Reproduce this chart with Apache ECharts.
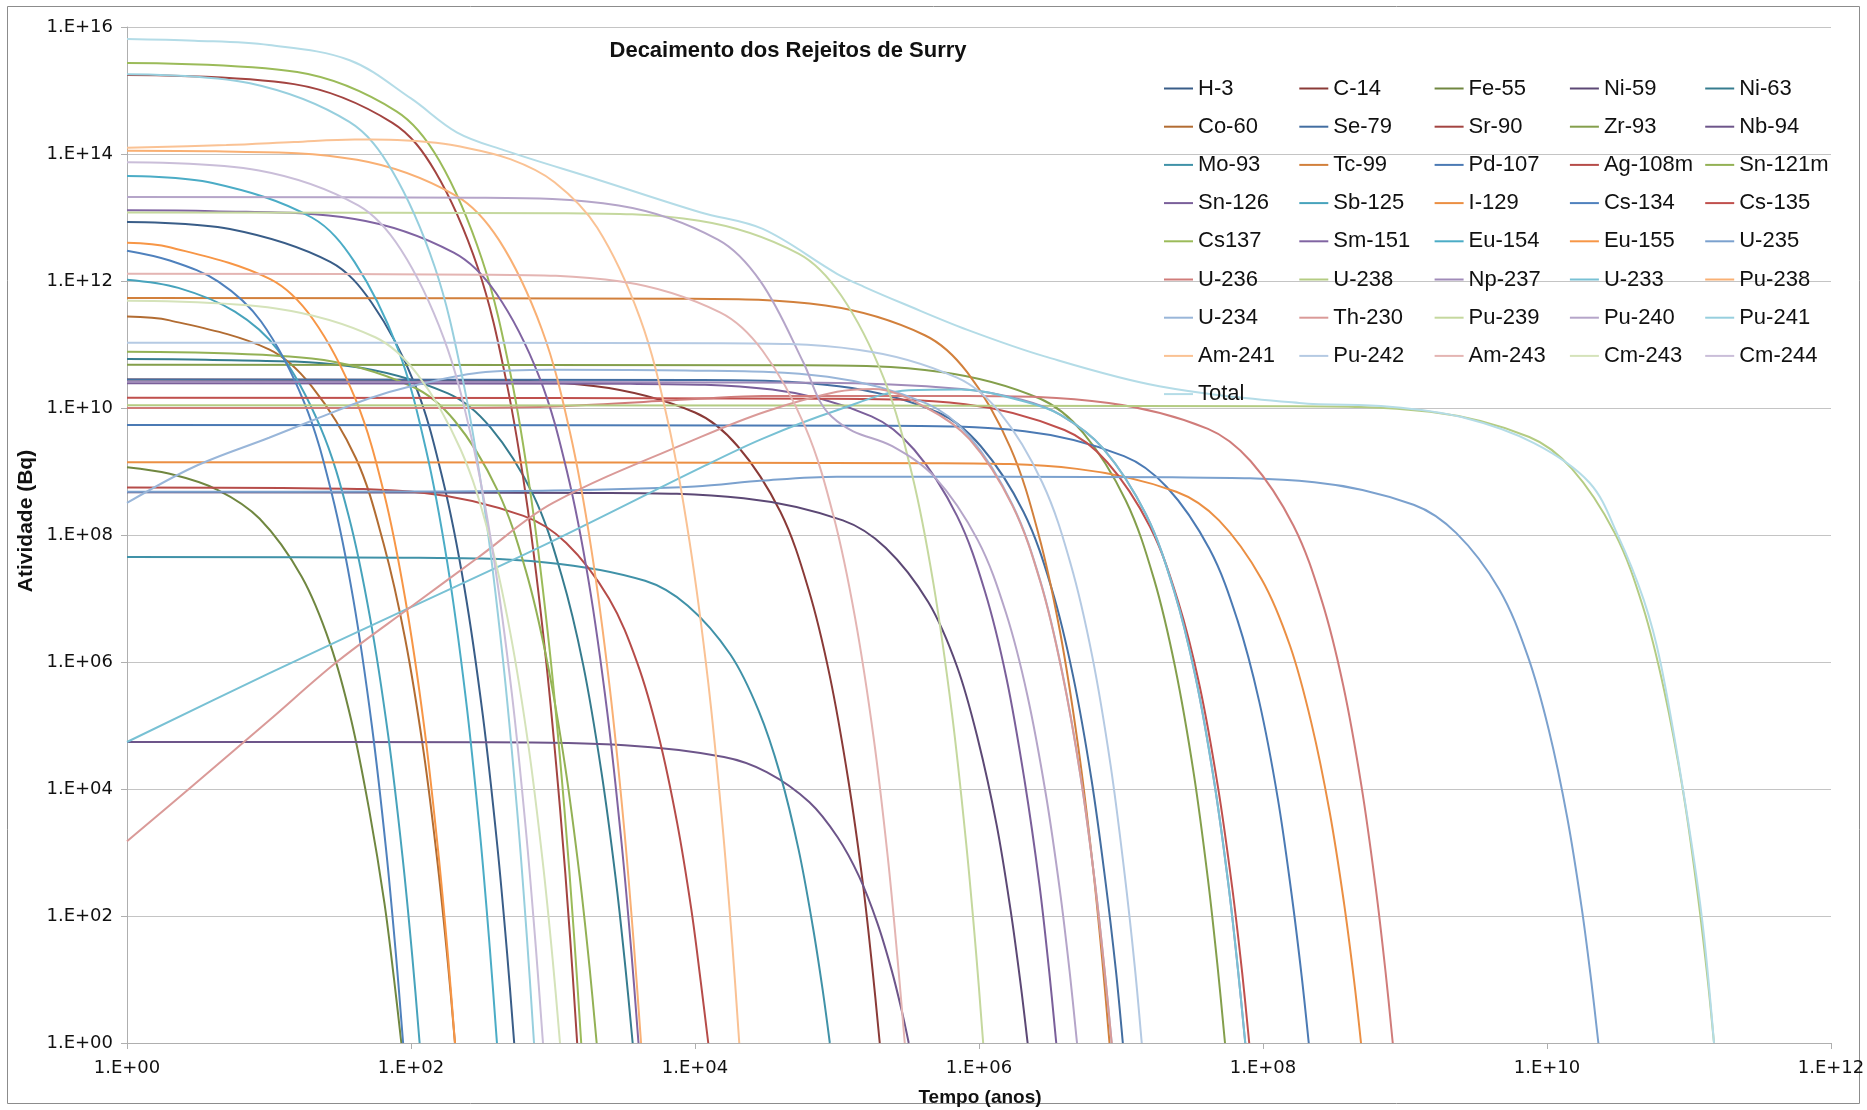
<!DOCTYPE html>
<html>
<head>
<meta charset="utf-8">
<title>Decaimento dos Rejeitos de Surry</title>
<script src="https://cdn.jsdelivr.net/npm/echarts/dist/echarts.min.js"></script>
<style>
  html, body { margin: 0; padding: 0; background: #ffffff; }
  #chart { width: 1867px; height: 1110px; }
</style>
</head>
<body>
<div id="chart"></div>
<script>
// Activity (Bq) versus time (years) for each nuclide of the Surry waste inventory.
// Each list holds [time in years, activity in Bq] pairs.
const H3 = [[1,8.5e12],[5.3,6.6e12],[27,2.0e12],[53,4.5e11],[107,2.3e10],[168,7.2e8],[238,1.45e7],[321,1.4e5],[405,1300],[475,26],[533,1]];
const C14 = [[1,2.8e10],[200,2.75e10],[2000,2.2e10],[1e4,8.5e9],[2e4,2.5e9],[4e4,2.3e8],[6.3e4,1.4e7],[8.9e4,6e5],[1.2e5,1.4e4],[1.52e5,330],[1.78e5,14],[2e5,1]];
const Fe55 = [[1,1.17e9],[2,9.2e8],[4.3,5.2e8],[8.6,1.8e8],[17,2.2e7],[27,1.9e6],[38,1.2e5],[51,4400],[65,160],[76,10],[85.5,1]];
const Ni59 = [[1,4.7e8],[2200,4.6e8],[2.2e4,3.8e8],[1.1e5,1.7e8],[2.2e5,6.3e7],[4.4e5,8.7e6],[7e5,8.5e5],[9.8e5,6.2e4],[1.33e6,2750],[1.67e6,123],[1.96e6,8.8],[2.2e6,1]];
const Ni63 = [[1,5.9e10],[3.6,5.75e10],[36,4.6e10],[182,1.7e10],[364,4.9e9],[728,4.2e8],[1150,2.3e7],[1630,9.1e5],[2190,1.9e4],[2760,400],[3240,15],[3640,1]];
const Co60 = [[1,2.75e11],[2,2.4e11],[10,8.4e10],[20,2.2e10],[41,1.6e9],[64,7.4e7],[91,2.3e6],[123,3.7e4],[155,590],[182,18],[204,1]];
const Se79 = [[1,2.8e10],[1.03e4,2.75e10],[1.03e5,2.2e10],[5.15e5,8.5e9],[1.03e6,2.5e9],[2.06e6,2.3e8],[3.26e6,1.4e7],[4.6e6,6e5],[6.2e6,1.4e4],[7.8e6,330],[9.2e6,14],[1.03e7,1]];
const Sr90 = [[1,1.75e15],[15,1.26e15],[74,3.1e14],[148,5.3e13],[296,1.6e12],[468,2.7e10],[662,2.7e8],[892,1.1e6],[1123,4700],[1319,46],[1480,1]];
const Zr93 = [[1,4.8e10],[5.4e4,4.7e10],[5.4e5,3.7e10],[2.7e6,1.4e10],[5.4e6,4.1e9],[1.08e7,3.5e8],[1.71e7,2e7],[2.41e7,8.1e5],[3.26e7,1.7e4],[4.1e7,370],[4.81e7,14.5],[5.4e7,1]];
const Nb94 = [[1,5.5e4],[320,5.45e4],[3200,4.9e4],[1.6e4,3.2e4],[3.2e4,1.85e4],[6.4e4,6200],[1.01e5,1740],[1.43e5,420],[1.93e5,76],[2.43e5,13.8],[2.85e5,3.3],[3.2e5,1]];
const Mo93 = [[1,4.5e7],[89,4.4e7],[890,3.7e7],[4450,1.9e7],[8900,7.7e6],[1.78e4,1.3e6],[2.81e4,1.7e5],[3.98e4,1.7e4],[5.37e4,1100],[6.75e4,69],[7.93e4,6.8],[8.9e4,1]];
const Tc99 = [[1,5.4e11],[8300,5.25e11],[8.3e4,4.1e11],[4.15e5,1.4e11],[8.3e5,3.6e10],[1.66e6,2.4e9],[2.62e6,1.05e8],[3.71e6,3.1e6],[5e6,4.6e4],[6.3e6,680],[7.4e6,19],[8.3e6,1]];
const Pd107 = [[1,5.4e9],[2.1e5,5.25e9],[2.1e6,4.3e9],[1.05e7,1.75e9],[2.1e7,5.7e8],[4.2e7,6e7],[6.6e7,4.6e6],[9.4e7,2.4e5],[1.27e8,7200],[1.59e8,220],[1.87e8,11.5],[2.1e8,1]];
const Ag108m = [[1,5.6e8],[12.4,5.5e8],[124,4.6e8],[620,2.0e8],[1240,7.5e7],[2480,1.0e7],[3920,9.7e5],[5540,6.9e4],[7480,2950],[9410,129],[1.1e4,8.9],[1.24e4,1]];
const Sn121m = [[1,7.7e10],[20,6.0e10],[101,2.2e10],[203,6.3e9],[406,5.1e8],[642,2.8e7],[907,1.05e6],[1224,2.1e4],[1541,420],[1809,15.5],[2030,1]];
const Sn126 = [[1,2.45e10],[3500,2.4e10],[3.5e4,1.95e10],[1.75e5,7.4e9],[3.5e5,2.2e9],[7e5,2.0e8],[1.1e6,1.3e7],[1.56e6,5.6e5],[2.1e6,1.3e4],[2.66e6,320],[3.12e6,13.5],[3.5e6,1]];
const Sb125 = [[1,1.05e12],[2.3,7.8e11],[5.75,3.3e11],[11.5,8.3e10],[23,5.0e9],[36.4,2.0e8],[51.4,5.1e6],[69.3,6.6e4],[87.3,830],[102.5,21],[115,1]];
const I129 = [[1,1.4e9],[4.9e5,1.35e9],[4.9e6,1.1e9],[2.45e7,4.8e8],[4.9e7,1.7e8],[9.8e7,2.0e7],[1.55e8,1.8e6],[2.19e8,1.1e5],[2.95e8,4300],[3.72e8,160],[4.37e8,10],[4.9e8,1]];
const Cs134 = [[1,3.0e12],[2,2.1e12],[4.4,9.8e11],[8.8,2.3e11],[17.6,1.26e10],[27.8,4.3e8],[39.3,9.5e6],[53,1.0e5],[66.8,1100],[78.4,24],[88,1]];
const Cs135 = [[1,1.45e10],[8e4,1.4e10],[8e5,1.15e10],[4e6,4.5e9],[8e6,1.4e9],[1.6e7,1.35e8],[2.53e7,8.9e6],[3.58e7,4.2e5],[4.82e7,1.07e4],[6.07e7,280],[7.13e7,12.9],[8e7,1]];
const Cs137 = [[1,2.7e15],[15.8,1.95e15],[79,4.7e14],[158,7.9e13],[316,2.2e12],[500,3.6e10],[706,3.5e8],[953,1.35e6],[1200,5200],[1408,48],[1580,1]];
const Sm151 = [[1,1.3e13],[4,1.26e13],[40,9.5e12],[200,2.8e12],[400,6.3e11],[800,3.1e10],[1264,9.3e8],[1788,1.8e7],[2412,1.6e5],[3036,1450],[3564,27],[4000,1]];
const Eu154 = [[1,4.5e13],[4,3.5e13],[20,1.0e13],[40,2.0e12],[80.6,8.7e10],[127,2.3e9],[180,3.7e7],[243,2.7e5],[306,2000],[359,31],[403,1]];
const Eu155 = [[1,4.0e12],[2,3.4e12],[10.2,1.07e12],[20.4,2.5e11],[40.8,1.35e10],[64.5,4.6e8],[91,1.0e7],[123,1.07e5],[155,1100],[182,24],[204,1]];
const U235 = [[1,4.8e8],[100,4.85e8],[1000,5.0e8],[1e4,5.8e8],[3e4,7.2e8],[1e5,8.3e8],[2.3e7,8.1e8],[2.3e8,6.8e8],[1.15e9,3.0e8],[2.3e9,1.07e8],[4.6e9,1.4e7],[7.3e9,1.26e6],[1.03e10,8.5e4],[1.39e10,3500],[1.75e10,141],[2.05e10,9.4],[2.3e10,1]];
const U236 = [[1,1.0e10],[100,1.0e10],[1000,1.06e10],[1e4,1.38e10],[3e4,1.55e10],[8.2e5,1.55e10],[8.2e6,1.2e10],[4.1e7,4.7e9],[8.2e7,1.45e9],[1.64e8,1.4e8],[2.6e8,9.1e6],[3.67e8,4.3e5],[4.94e8,1.1e4],[6.22e8,280],[7.3e8,13],[8.2e8,1]];
const U238 = [[1,1.1e10],[1.5e8,1.07e10],[1.5e9,8.7e9],[7.5e9,3.5e9],[1.5e10,1.1e9],[3e10,1.07e8],[4.74e10,7.4e6],[6.7e10,3.5e5],[9.05e10,9700],[1.14e11,260],[1.34e11,12.4],[1.5e11,1]];
const Np237 = [[1,2.6e10],[7.5e4,2.5e10],[7.5e5,2.0e10],[2e6,1.35e10],[3.75e6,7.8e9],[7.5e6,2.3e9],[1.5e7,2.1e8],[2.37e7,1.3e7],[3.35e7,5.8e5],[4.52e7,1.35e4],[5.7e7,320],[6.68e7,13.5],[7.5e7,1]];
const U233 = [[1,5.5e4],[10,6.6e5],[100,7.3e6],[1000,8.1e7],[1.1e4,1.15e9],[3e4,3.3e9],[1e5,9.2e9],[3.2e5,1.9e10],[7.5e5,1.95e10],[2e6,1.3e10],[3.75e6,7.8e9],[7.5e6,2.3e9],[1.5e7,2.1e8],[2.37e7,1.3e7],[3.35e7,5.8e5],[4.52e7,1.35e4],[5.7e7,320],[6.68e7,13.5],[7.5e7,1]];
const Pu238 = [[1,1.12e14],[4.2,1.1e14],[41.7,8.1e13],[208,2.2e13],[417,4.4e12],[834,1.74e11],[1318,4.1e9],[1864,5.9e7],[2514,3.8e5],[3165,2500],[3715,34],[4170,1]];
const U234 = [[1,3.2e8],[3,1.2e9],[10,3.4e9],[20,6.3e9],[50,1.4e10],[100,2.2e10],[300,3.6e10],[1000,4.0e10],[8600,3.9e10],[8.6e4,3.1e10],[4.3e5,1.17e10],[8.6e5,3.5e9],[1.72e6,3.0e8],[2.72e6,1.8e7],[3.84e6,7.2e5],[5.19e6,1.6e4],[6.53e6,360],[7.66e6,14],[8.6e6,1]];
const Th230 = [[1,1500],[3,1.2e4],[10,1.2e5],[30,1.0e6],[100,7.4e6],[300,4.5e7],[1000,3.2e8],[1.1e4,3.5e9],[3.2e4,8.9e9],[1e5,1.8e10],[1.8e5,2.0e10],[4.3e5,1.0e10],[8.6e5,3.2e9],[1.72e6,2.9e8],[2.72e6,1.75e7],[3.84e6,7e5],[5.19e6,1.6e4],[6.53e6,350],[7.66e6,14],[8.6e6,1]];
const Pu239 = [[1,1.2e13],[1070,1.17e13],[1.07e4,8.9e12],[5.35e4,2.7e12],[1.07e5,5.9e11],[2.14e5,2.9e10],[3.38e5,8.9e8],[4.78e5,1.7e7],[6.45e5,1.55e5],[8.12e5,1400],[9.53e5,27],[1.07e6,1]];
const Pu240 = [[1,2.1e13],[290,2.05e13],[2900,1.55e13],[1.45e4,4.5e12],[2.9e4,9.8e11],[5.8e4,5.2e10],[7.5e4,1.33e10],[9.2e4,7.3e9],[1.3e5,4.3e9],[2.45e5,2.5e9],[4.9e5,8.1e8],[9.8e5,8.3e7],[1.55e6,5.9e6],[2.19e6,3.0e5],[2.95e6,8500],[3.72e6,245],[4.37e6,12],[4.9e6,1]];
const Pu241 = [[1,1.8e15],[7.35,1.3e15],[36.8,3.2e14],[73.5,5.5e13],[147,1.66e12],[232,2.75e10],[329,2.75e8],[443,1.15e6],[558,4800],[655,46],[735,1]];
const Am241 = [[1,1.26e14],[5,1.38e14],[15,1.54e14],[40,1.69e14],[70,1.68e14],[130,1.55e14],[208,1.35e14],[500,8.3e13],[1025,3.6e13],[2050,6.9e12],[4100,2.6e11],[6480,5.8e9],[9160,7.8e7],[1.24e4,4.7e5],[1.56e4,2750],[1.83e4,36],[2.05e4,1]];
const Pu242 = [[1,1.07e11],[1.4e4,1.05e11],[1.4e5,8.3e10],[7e5,3.0e10],[1.4e6,8.5e9],[2.8e6,6.6e8],[4.42e6,3.5e7],[6.26e6,1.26e6],[8.44e6,2.4e4],[1.06e7,460],[1.25e7,16],[1.4e7,1]];
const Am243 = [[1,1.3e12],[300,1.26e12],[3000,9.8e11],[1.5e4,3.2e11],[3e4,7.9e10],[6e4,4.9e9],[9.5e4,1.9e8],[1.34e5,5.0e6],[1.81e5,6.5e4],[2.28e5,830],[2.67e5,21],[3e5,1]];
const Cm243 = [[1,4.9e11],[11.2,3.7e11],[56,1.3e11],[112,3.3e10],[224,2.2e9],[354,1.0e8],[500,2.9e6],[675,4.4e4],[850,660],[998,19],[1120,1]];
const Cm244 = [[1,7.4e13],[8.5,5.5e13],[42.5,1.55e13],[85,3.1e12],[170,1.26e11],[269,3.1e9],[380,4.8e7],[513,3.2e5],[645,2200],[757,32],[850,1]];
const Total = [[1,6.5e15],[3,6.1e15],[10,5.2e15],[37,3.0e15],[100,7.5e14],[210,2.2e14],[450,1.15e14],[2100,3.9e13],[1.1e4,1.2e13],[3e4,6.6e12],[1e5,1.3e12],[1.55e5,8.1e11],[3e5,4.3e11],[8.3e5,1.7e11],[2.9e6,6.5e10],[1.86e7,2.2e10],[1.8e8,1.2e10],[7.8e8,1.05e10],[2.5e9,7.2e9],[8.1e9,2.8e9],[2e10,6.6e8],[3.16e10,9.8e7],[4.8e10,9.5e6],[6.3e10,9.8e5],[9.1e10,9500],[1.23e11,98],[1.5e11,1]];

// Legend / series order
const seriesNames = ['H-3','C-14','Fe-55','Ni-59','Ni-63','Co-60','Se-79','Sr-90','Zr-93','Nb-94',
  'Mo-93','Tc-99','Pd-107','Ag-108m','Sn-121m','Sn-126','Sb-125','I-129','Cs-134','Cs-135',
  'Cs137','Sm-151','Eu-154','Eu-155','U-235','U-236','U-238','Np-237','U-233','Pu-238',
  'U-234','Th-230','Pu-239','Pu-240','Pu-241','Am-241','Pu-242','Am-243','Cm-243','Cm-244','Total'];
const seriesData = [H3,C14,Fe55,Ni59,Ni63,Co60,Se79,Sr90,Zr93,Nb94,
  Mo93,Tc99,Pd107,Ag108m,Sn121m,Sn126,Sb125,I129,Cs134,Cs135,
  Cs137,Sm151,Eu154,Eu155,U235,U236,U238,Np237,U233,Pu238,
  U234,Th230,Pu239,Pu240,Pu241,Am241,Pu242,Am243,Cm243,Cm244,Total];

// Office-style palette: six accent hues, running from dark shades to light tints.
const lineColors = [
  '#395D88','#8A3A37','#708740','#5C4875','#367C8F','#B26C32',
  '#436EA1','#A34441','#849F4C','#6D558A','#4092A8','#D2803C',
  '#4B7AB4','#B64C49','#93B155','#7A5F9A','#47A3BC','#EB8F43',
  '#4F81BD','#C0504D','#9BBB59','#8064A2','#4BACC6','#F79646',
  '#7BA1CE','#D07C7A','#B4CC83','#A08BB9','#78C1D4','#F9B074',
  '#99B6D9','#DA9A98','#C5D89E','#B5A5C9','#97CFDE','#FAC294',
  '#B5CAE3','#E4B5B3','#D5E3BA','#CABED9','#B4DCE7'
];

const expLabel = v => '1.E+' + String(Math.round(Math.log10(v))).padStart(2, '0');

const chart = echarts.init(document.getElementById('chart'), null, { renderer: 'canvas' });

const option = {
  animation: false,
  backgroundColor: '#ffffff',
  grid: { left: 127, right: 36, top: 27, bottom: 67, containLabel: false, outerBoundsMode: 'none' },
  legend: {
    left: 1164, top: 71, width: 700, padding: 0,
    orient: 'horizontal',
    icon: 'rect',
    itemWidth: 29, itemHeight: 2, itemGap: 3.2,
    selectedMode: false,
    textStyle: { fontFamily: 'Liberation Sans', fontSize: 22, color: '#111111', width: 98.1, height: 35, lineHeight: 35 }
  },
  xAxis: {
    type: 'log', logBase: 10, min: 1, max: 1e12, interval: 2,
    axisLine: { show: true, lineStyle: { color: '#AFAFAF', width: 1 } },
    axisTick: { show: true, length: 6, lineStyle: { color: '#AFAFAF' } },
    splitLine: { show: false },
    minorTick: { show: false },
    axisLabel: { formatter: expLabel, fontFamily: 'DejaVu Sans', fontSize: 18, color: '#111111', margin: 16 }
  },
  yAxis: {
    type: 'log', logBase: 10, min: 1, max: 1e16, interval: 2,
    axisLine: { show: true, lineStyle: { color: '#AFAFAF', width: 1 } },
    axisTick: { show: true, length: 6, lineStyle: { color: '#AFAFAF' } },
    splitLine: { show: true, lineStyle: { color: '#C4C4C4', width: 1 } },
    minorTick: { show: false },
    axisLabel: { formatter: expLabel, fontFamily: 'DejaVu Sans', fontSize: 18, color: '#111111', margin: 14 }
  },
  graphic: [
    { type: 'rect', z: -10, silent: true,
      shape: { x: 7.5, y: 6.5, width: 1852, height: 1097 },
      style: { fill: null, stroke: '#8C8C8C', lineWidth: 1 } },
    { type: 'text', silent: true, x: 788, y: 51,
      style: { text: 'Decaimento dos Rejeitos de Surry', fontFamily: 'Liberation Sans', fontWeight: 'bold', fontSize: 22,
               fill: '#111111', align: 'center', verticalAlign: 'middle' } },
    { type: 'text', silent: true, x: 980, y: 1098,
      style: { text: 'Tempo (anos)', fontFamily: 'Liberation Sans', fontWeight: 'bold', fontSize: 19,
               fill: '#111111', align: 'center', verticalAlign: 'middle' } },
    { type: 'text', silent: true, x: 26, y: 521, rotation: Math.PI / 2,
      style: { text: 'Atividade (Bq)', fontFamily: 'Liberation Sans', fontWeight: 'bold', fontSize: 21,
               fill: '#111111', align: 'center', verticalAlign: 'middle' } }
  ],
  series: seriesNames.map((name, i) => ({
    name: name,
    type: 'line',
    data: seriesData[i],
    symbol: 'none',
    showSymbol: false,
    smooth: 0.35,
    clip: true,
    color: lineColors[i],
    lineStyle: { width: 2, color: lineColors[i] },
    emphasis: { disabled: true }
  }))
};

chart.setOption(option);
</script>
</body>
</html>
